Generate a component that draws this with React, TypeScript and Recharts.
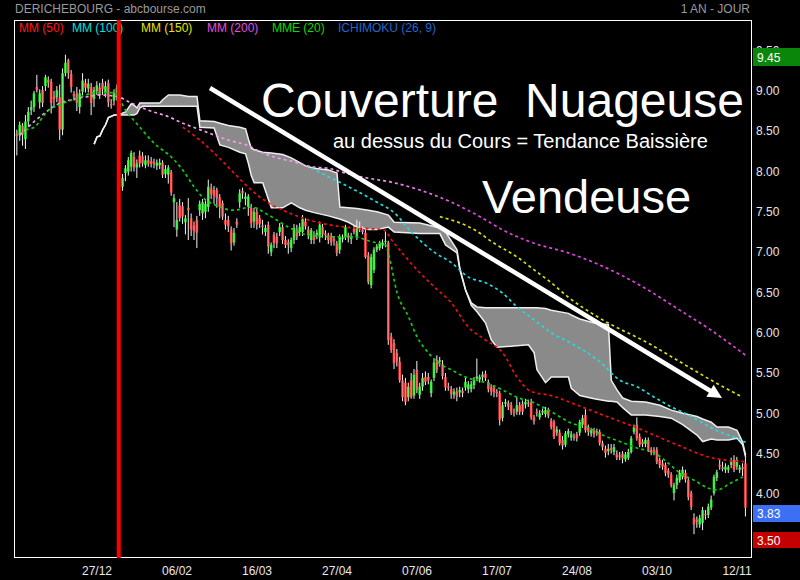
import { ComposedChart, Bar, Line, Area, XAxis, YAxis, ReferenceLine } from 'recharts'

// daily candles, oldest first
const opens = [
  8.47, 8.45, 8.57, 8.40, 8.62, 8.76, 8.80, 9.05, 8.86, 9.01,
  9.06, 9.14, 9.11, 8.93, 8.92, 8.92, 8.52, 9.22, 9.38, 9.21,
  8.96, 8.97, 8.80, 8.99, 9.10, 9.03, 9.05, 8.90, 9.00, 9.04,
  9.10, 8.98, 9.10, 8.84, 8.88, 8.92, 8.84, 7.81, 7.98, 8.00,
  8.06, 8.18, 8.05, 8.20, 8.19, 8.08, 8.14, 8.13, 8.12, 8.07,
  8.08, 8.11, 7.97, 7.96, 7.99, 7.62, 7.28, 7.58, 7.57, 7.37,
  7.55, 7.42, 7.33, 7.40, 7.52, 7.48, 7.50, 7.56, 7.79, 7.77,
  7.77, 7.68, 7.61, 7.40, 7.40, 7.28, 7.12, 7.38, 7.62, 7.76,
  7.66, 7.56, 7.55, 7.38, 7.50, 7.42, 7.33, 7.25, 7.34, 7.00,
  7.22, 7.19, 7.25, 7.31, 7.15, 7.12, 7.05, 7.15, 7.28, 7.25,
  7.25, 7.38, 7.28, 7.15, 7.21, 7.21, 7.18, 7.31, 7.23, 7.21,
  7.20, 7.16, 7.11, 7.03, 7.16, 7.19, 7.21, 7.16, 7.29, 7.19,
  7.30, 7.28, 7.24, 6.96, 6.59, 6.78, 7.03, 7.05, 7.08, 7.13,
  7.12, 5.95, 5.87, 5.75, 5.64, 5.41, 5.38, 5.20, 5.41, 5.22,
  5.54, 5.23, 5.33, 5.45, 5.45, 5.25, 5.44, 5.66, 5.64, 5.61,
  5.45, 5.33, 5.30, 5.23, 5.27, 5.26, 5.28, 5.32, 5.30, 5.30,
  5.35, 5.43, 5.42, 5.45, 5.49, 5.39, 5.33, 5.32, 5.27, 5.25,
  4.94, 5.12, 5.13, 5.10, 5.02, 5.02, 5.10, 5.12, 5.11, 5.13,
  5.14, 4.95, 5.02, 4.95, 5.01, 4.99, 5.04, 4.91, 4.89, 4.76,
  4.76, 4.67, 4.61, 4.74, 4.70, 4.71, 4.74, 4.76, 4.86, 4.98,
  4.83, 4.75, 4.79, 4.76, 4.77, 4.63, 4.56, 4.53, 4.57, 4.52,
  4.50, 4.48, 4.50, 4.43, 4.45, 4.52, 4.77, 4.86, 4.71, 4.65,
  4.62, 4.67, 4.55, 4.54, 4.55, 4.42, 4.38, 4.36, 4.29, 4.24,
  4.01, 4.11, 4.17, 4.21, 4.26, 4.17, 4.01, 3.70, 3.68, 3.62,
  3.64, 3.75, 3.74, 3.83, 4.01, 4.20, 4.36, 4.33, 4.30, 4.30,
  4.36, 4.42, 4.34, 4.30, 4.33, 4.38,
]

const highs = [
  8.52, 8.62, 8.60, 8.70, 8.80, 8.88, 9.00, 9.20, 9.02, 9.06,
  9.20, 9.18, 9.15, 9.00, 9.06, 9.08, 9.28, 9.45, 9.40, 9.26,
  9.00, 9.05, 9.02, 9.22, 9.15, 9.15, 9.10, 9.05, 9.12, 9.10,
  9.15, 9.12, 9.14, 8.90, 9.02, 9.08, 8.92, 7.97, 8.08, 8.18,
  8.26, 8.24, 8.15, 8.26, 8.24, 8.20, 8.20, 8.18, 8.16, 8.15,
  8.16, 8.14, 8.08, 8.08, 8.02, 7.72, 7.62, 7.66, 7.62, 7.46,
  7.67, 7.48, 7.38, 7.45, 7.64, 7.66, 7.64, 7.90, 7.85, 7.82,
  7.80, 7.72, 7.64, 7.48, 7.45, 7.32, 7.30, 7.42, 7.78, 7.80,
  7.74, 7.72, 7.60, 7.55, 7.55, 7.46, 7.40, 7.34, 7.38, 7.12,
  7.25, 7.24, 7.36, 7.35, 7.20, 7.16, 7.18, 7.35, 7.34, 7.36,
  7.46, 7.42, 7.32, 7.30, 7.26, 7.28, 7.38, 7.35, 7.27, 7.24,
  7.24, 7.20, 7.14, 7.22, 7.22, 7.34, 7.24, 7.24, 7.33, 7.40,
  7.38, 7.32, 7.28, 7.00, 6.98, 7.06, 7.10, 7.14, 7.16, 7.26,
  7.14, 6.00, 5.92, 5.80, 5.70, 5.48, 5.44, 5.38, 5.50, 5.55,
  5.65, 5.38, 5.50, 5.52, 5.50, 5.42, 5.68, 5.72, 5.70, 5.66,
  5.50, 5.38, 5.34, 5.31, 5.32, 5.33, 5.32, 5.44, 5.40, 5.40,
  5.45, 5.68, 5.48, 5.52, 5.53, 5.42, 5.36, 5.35, 5.30, 5.28,
  5.14, 5.18, 5.16, 5.14, 5.06, 5.20, 5.14, 5.16, 5.18, 5.17,
  5.18, 4.98, 5.06, 5.04, 5.06, 5.08, 5.07, 4.94, 4.92, 4.84,
  4.80, 4.72, 4.78, 4.81, 4.78, 4.75, 4.77, 4.92, 4.98, 5.05,
  4.86, 4.82, 4.82, 4.81, 4.80, 4.66, 4.60, 4.62, 4.62, 4.62,
  4.54, 4.52, 4.53, 4.52, 4.56, 4.72, 4.86, 4.95, 4.75, 4.68,
  4.70, 4.70, 4.58, 4.58, 4.58, 4.45, 4.42, 4.39, 4.32, 4.27,
  4.14, 4.24, 4.30, 4.34, 4.30, 4.20, 4.04, 3.76, 3.72, 3.74,
  3.84, 3.80, 3.88, 3.98, 4.24, 4.30, 4.42, 4.40, 4.38, 4.36,
  4.45, 4.48, 4.46, 4.36, 4.38, 4.46,
]

const lows = [
  8.20, 8.38, 8.32, 8.28, 8.55, 8.70, 8.74, 8.98, 8.78, 8.80,
  9.00, 9.04, 8.72, 8.80, 8.86, 8.39, 8.45, 9.18, 9.15, 8.98,
  8.88, 8.75, 8.72, 8.95, 8.98, 8.98, 8.70, 8.80, 8.95, 8.90,
  8.95, 8.92, 8.80, 8.78, 8.82, 8.88, 8.70, 7.76, 7.88, 7.95,
  8.00, 8.00, 7.92, 8.05, 8.06, 8.04, 8.06, 8.05, 8.04, 8.02,
  8.03, 7.92, 7.92, 7.85, 7.70, 7.31, 7.19, 7.38, 7.35, 7.22,
  7.15, 7.20, 7.15, 7.05, 7.45, 7.40, 7.42, 7.50, 7.66, 7.60,
  7.55, 7.42, 7.40, 7.28, 7.25, 7.02, 7.08, 7.30, 7.55, 7.66,
  7.58, 7.45, 7.30, 7.30, 7.28, 7.30, 7.22, 7.20, 6.98, 6.95,
  7.05, 7.05, 7.20, 7.10, 7.05, 6.98, 7.00, 7.10, 7.15, 7.20,
  7.20, 7.28, 7.16, 7.10, 7.10, 7.16, 7.12, 7.18, 7.15, 7.10,
  7.08, 7.08, 6.95, 6.98, 7.12, 7.15, 7.12, 7.10, 7.22, 7.15,
  7.25, 7.22, 6.92, 6.60, 6.55, 6.74, 7.00, 7.02, 7.04, 7.06,
  5.85, 5.75, 5.55, 5.58, 5.38, 5.15, 5.10, 5.15, 5.18, 5.18,
  5.25, 5.18, 5.28, 5.35, 5.36, 5.20, 5.40, 5.50, 5.58, 5.42,
  5.28, 5.28, 5.18, 5.18, 5.15, 5.20, 5.20, 5.28, 5.25, 5.26,
  5.30, 5.40, 5.38, 5.40, 5.40, 5.26, 5.22, 5.20, 5.20, 4.85,
  4.90, 5.08, 5.04, 4.98, 4.96, 4.98, 4.98, 4.98, 5.06, 5.08,
  4.92, 4.86, 4.96, 4.92, 4.98, 4.95, 4.94, 4.80, 4.68, 4.72,
  4.60, 4.55, 4.58, 4.70, 4.66, 4.66, 4.65, 4.72, 4.82, 4.76,
  4.72, 4.71, 4.70, 4.72, 4.60, 4.54, 4.45, 4.48, 4.50, 4.48,
  4.42, 4.42, 4.38, 4.40, 4.42, 4.50, 4.74, 4.66, 4.58, 4.58,
  4.58, 4.52, 4.48, 4.48, 4.37, 4.32, 4.30, 4.22, 4.20, 4.08,
  3.92, 4.06, 4.14, 4.18, 4.14, 3.92, 3.80, 3.50, 3.58, 3.58,
  3.55, 3.68, 3.70, 3.80, 3.98, 4.16, 4.30, 4.28, 4.26, 4.26,
  4.32, 4.27, 4.30, 4.26, 4.22, 3.72,
]

const closes = [
  8.44, 8.58, 8.46, 8.62, 8.74, 8.80, 8.97, 9.01, 8.97, 8.85,
  9.17, 9.10, 8.85, 8.90, 9.01, 8.52, 9.22, 9.35, 9.22, 9.05,
  8.93, 8.85, 8.97, 9.13, 9.04, 9.09, 8.85, 9.01, 9.07, 8.95,
  9.02, 9.06, 8.86, 8.82, 8.97, 9.04, 8.80, 7.92, 8.04, 8.14,
  8.23, 8.05, 8.10, 8.10, 8.10, 8.14, 8.10, 8.09, 8.10, 8.11,
  8.11, 7.96, 8.03, 8.05, 7.74, 7.67, 7.40, 7.42, 7.44, 7.42,
  7.52, 7.28, 7.26, 7.24, 7.60, 7.62, 7.60, 7.81, 7.72, 7.70,
  7.67, 7.56, 7.44, 7.34, 7.32, 7.11, 7.24, 7.34, 7.73, 7.73,
  7.69, 7.69, 7.36, 7.50, 7.34, 7.35, 7.31, 7.30, 7.07, 7.09,
  7.11, 7.11, 7.31, 7.15, 7.09, 7.09, 7.15, 7.30, 7.19, 7.31,
  7.41, 7.32, 7.21, 7.27, 7.15, 7.24, 7.34, 7.22, 7.21, 7.15,
  7.12, 7.14, 6.99, 7.19, 7.18, 7.31, 7.18, 7.20, 7.25, 7.31,
  7.28, 7.25, 6.94, 6.63, 6.94, 7.03, 7.07, 7.11, 7.12, 7.14,
  5.91, 5.79, 5.62, 5.64, 5.41, 5.20, 5.14, 5.33, 5.20, 5.48,
  5.29, 5.33, 5.44, 5.39, 5.41, 5.39, 5.63, 5.54, 5.66, 5.46,
  5.32, 5.32, 5.24, 5.27, 5.21, 5.29, 5.25, 5.39, 5.36, 5.36,
  5.41, 5.46, 5.45, 5.48, 5.44, 5.30, 5.27, 5.26, 5.25, 4.92,
  5.10, 5.14, 5.08, 5.02, 5.00, 5.10, 5.02, 5.02, 5.14, 5.12,
  4.95, 4.90, 5.00, 5.00, 5.03, 5.04, 4.97, 4.83, 4.71, 4.80,
  4.63, 4.60, 4.75, 4.78, 4.74, 4.70, 4.69, 4.89, 4.94, 4.79,
  4.77, 4.79, 4.74, 4.78, 4.63, 4.58, 4.51, 4.56, 4.55, 4.58,
  4.45, 4.46, 4.44, 4.49, 4.52, 4.69, 4.83, 4.69, 4.61, 4.62,
  4.67, 4.55, 4.51, 4.52, 4.40, 4.36, 4.34, 4.26, 4.24, 4.11,
  4.11, 4.20, 4.26, 4.30, 4.18, 3.96, 3.84, 3.62, 3.65, 3.70,
  3.80, 3.74, 3.84, 3.93, 4.21, 4.27, 4.34, 4.31, 4.34, 4.33,
  4.40, 4.30, 4.42, 4.33, 4.31, 3.83,
]

// session index of each date label on the time axis
const dateTicks = [28, 56, 84, 112, 140, 168, 196, 224, 252]
const dateLabels = ['27/12', '06/02', '16/03', '27/04', '07/06', '17/07', '24/08', '03/10', '12/11']
const priceTicks = [4, 4.5, 5, 5.5, 6, 6.5, 7, 7.5, 8, 8.5, 9, 9.5]

// moving averages: [session, value]
const mm50 = [
  [58, 8.55], [64, 8.39], [69, 8.23], [76, 7.98], [82, 7.77], [88, 7.61], [95, 7.49], [102, 7.40],
  [109, 7.34], [118, 7.30], [128, 7.28], [132, 7.11], [140, 6.78], [146, 6.57], [152, 6.37],
  [158, 6.07], [164, 5.91], [170, 5.75], [175, 5.45], [180, 5.27], [187, 5.22], [194, 5.13],
  [205, 4.98], [217, 4.82], [231, 4.61], [243, 4.45], [255, 4.40],
]
const mm100 = [
  [103, 8.04], [115, 7.83], [126, 7.62], [132, 7.49], [138, 7.25], [146, 7.00], [152, 6.87],
  [158, 6.69], [164, 6.62], [170, 6.49], [175, 6.32], [181, 6.16], [187, 6.00], [194, 5.87],
  [204, 5.64], [211, 5.41], [217, 5.33], [223, 5.20], [229, 5.08], [235, 4.98], [240, 4.88],
  [246, 4.77], [252, 4.69], [255, 4.64],
]
const mm150 = [
  [148, 7.44], [160, 7.28], [167, 7.11], [175, 6.94], [181, 6.78], [187, 6.62], [193, 6.44],
  [204, 6.18], [222, 5.85], [232, 5.64], [244, 5.39], [254, 5.20],
]
const mm200 = [
  [1, 8.45], [6, 8.62], [11, 8.76], [14, 8.83], [20, 8.90], [25, 8.93], [29, 8.95], [35, 8.93],
  [40, 8.85], [46, 8.76], [53, 8.68], [58, 8.60], [64, 8.52], [74, 8.39], [81, 8.32], [86, 8.23],
  [91, 8.17], [97, 8.12], [103, 8.06], [109, 8.04], [115, 7.98], [121, 7.93], [132, 7.86],
  [141, 7.77], [152, 7.62], [161, 7.46], [172, 7.24], [181, 7.11], [193, 6.99], [204, 6.84],
  [218, 6.59], [232, 6.28], [243, 6.03], [255, 5.72],
]
const mme20 = [
  [3, 8.52], [6, 8.55], [11, 8.76], [15, 8.83], [21, 8.91], [28, 8.98], [34, 8.98], [38, 8.76],
  [43, 8.55], [48, 8.35], [54, 8.18], [58, 8.02], [62, 7.81], [65, 7.68], [69, 7.59], [76, 7.52],
  [82, 7.56], [88, 7.46], [95, 7.31], [102, 7.21], [111, 7.19], [118, 7.19], [124, 7.13],
  [129, 7.09], [130, 6.98], [133, 6.50], [137, 6.20], [140, 5.95], [144, 5.75], [147, 5.64],
  [152, 5.54], [157, 5.45], [164, 5.38], [170, 5.29], [175, 5.20], [181, 5.13], [187, 5.02],
  [194, 4.88], [200, 4.82], [205, 4.73], [211, 4.65], [217, 4.57], [223, 4.51], [228, 4.38],
  [232, 4.26], [237, 4.17], [242, 4.07], [245, 4.05], [250, 4.14], [254, 4.21],
]

// ichimoku cloud edges: [session, upper, lower]
const cloud = [
  [27, 8.34, 8.34], [28, 8.43, 8.43], [29, 8.44, 8.44], [30, 8.52, 8.52], [31, 8.58, 8.58],
  [32, 8.67, 8.67], [34, 8.70, 8.70], [36, 8.71, 8.70], [38, 8.74, 8.70], [40, 8.84, 8.70],
  [41, 8.82, 8.70], [42, 8.79, 8.72], [43, 8.85, 8.79], [44, 8.85, 8.81], [50, 8.85, 8.81],
  [51, 8.89, 8.81], [53, 8.95, 8.81], [57, 8.95, 8.81], [60, 8.93, 8.81], [63, 8.93, 8.81],
  [64, 8.63, 8.55], [69, 8.62, 8.54], [71, 8.60, 8.33], [74, 8.57, 8.30], [78, 8.55, 8.24],
  [80, 8.53, 8.22], [81, 8.40, 8.10], [82, 8.29, 7.95], [83, 8.27, 7.86], [86, 8.24, 7.86],
  [89, 8.23, 7.55], [93, 8.21, 7.55], [96, 8.17, 7.61], [99, 8.11, 7.55], [101, 8.07, 7.52],
  [104, 8.04, 7.49], [109, 8.02, 7.45], [112, 7.98, 7.42], [113, 7.56, 7.41], [116, 7.55, 7.37],
  [119, 7.54, 7.31], [123, 7.52, 7.28], [126, 7.50, 7.28], [130, 7.46, 7.31], [132, 7.37, 7.25],
  [141, 7.36, 7.23], [148, 7.30, 7.23], [150, 7.25, 7.09], [154, 7.03, 6.99], [155, 6.80, 6.78],
  [157, 6.53, 6.53], [159, 6.37, 6.34], [161, 6.32, 6.26], [164, 6.31, 6.12], [166, 6.31, 5.91],
  [168, 6.31, 5.82], [179, 6.31, 5.85], [181, 6.31, 5.75], [182, 6.31, 5.54], [185, 6.30, 5.38],
  [187, 6.28, 5.45], [193, 6.24, 5.45], [194, 6.22, 5.31], [197, 6.17, 5.22], [202, 6.12, 5.18],
  [207, 6.10, 5.15], [208, 5.41, 5.15], [210, 5.29, 5.14], [212, 5.19, 5.07], [215, 5.15, 4.98],
  [220, 5.14, 4.98], [225, 5.10, 4.96], [229, 5.04, 4.94], [233, 5.00, 4.86], [238, 4.96, 4.73],
  [240, 4.93, 4.65], [243, 4.89, 4.68], [245, 4.83, 4.67], [249, 4.83, 4.67], [252, 4.79, 4.69],
  [254, 4.64, 4.61], [255, 4.48, 4.46],
]

const periodHigh = 9.45
const periodLow = 3.5
const lastClose = closes[closes.length - 1]
const gapSession = 35.6

type Row = { i: number; o: number; h: number; l: number; c: number; [k: string]: any }

const rows: Row[] = closes.map((c, i) => ({ i, o: opens[i], h: highs[i], l: lows[i], c }))
const series: [string, number[][]][] = [
  ['mm50', mm50], ['mm100', mm100], ['mm150', mm150], ['mm200', mm200], ['mme20', mme20],
]
series.forEach(([key, pts]) => pts.forEach(([i, v]) => { rows[i][key] = v }))
cloud.forEach(([i, up, lo]) => { rows[i].cloud = [lo, up] })

const FONT = '"Liberation Sans", Arial, sans-serif'

function Candle(props: any) {
  const { x, y, width, height, payload } = props
  if (!payload || x == null || y == null) return null
  const { o, h, l, c } = payload
  const top = Math.min(y, y + height)
  const bottom = Math.max(y, y + height)
  const k = h > l ? (bottom - top) / (h - l) : 0
  const py = (v: number) => top + (h - v) * k
  const cx = x + width / 2
  const bodyTop = py(Math.max(o, c))
  const bodyH = Math.max(1, py(Math.min(o, c)) - bodyTop)
  return (
    <g>
      <line x1={cx} x2={cx} y1={top} y2={bottom} stroke="#f4f4f4" strokeWidth={1} />
      <rect x={cx - 1.3} y={bodyTop} width={2.6} height={bodyH} fill={c >= o ? '#22e622' : '#ff3c3c'} />
      <line x1={cx} x2={cx} y1={bodyTop} y2={bodyTop + bodyH} stroke="#ffffff" strokeOpacity={0.35} />
    </g>
  )
}

function TrendArrow(props: any) {
  const { x1, y1, x2, y2 } = props
  if (x1 == null) return null
  const dx = x2 - x1
  const dy = y2 - y1
  const len = Math.hypot(dx, dy)
  const ux = dx / len
  const uy = dy / len
  const bx = x2 - ux * 14
  const by = y2 - uy * 14
  const wing = 7
  return (
    <g>
      <line x1={x1} y1={y1} x2={bx + ux * 2} y2={by + uy * 2} stroke="#ffffff" strokeWidth={4.5} />
      <polygon
        points={`${x2},${y2} ${bx - uy * wing},${by + ux * wing} ${bx + uy * wing},${by - ux * wing}`}
        fill="#ffffff"
      />
    </g>
  )
}

const legend = [
  { label: 'MM (50)', color: '#ff1a1a', x: 19 },
  { label: 'MM (100)', color: '#00e0e0', x: 72 },
  { label: 'MM (150)', color: '#e6e600', x: 141 },
  { label: 'MM (200)', color: '#e050e0', x: 207 },
  { label: 'MME (20)', color: '#00dd00', x: 272 },
  { label: 'ICHIMOKU (26, 9)', color: '#2266cc', x: 338 },
]

const maLine = (key: string, color: string) => (
  <Line
    key={key}
    dataKey={key}
    stroke={color}
    strokeWidth={1.7}
    strokeDasharray="3 3"
    dot={false}
    activeDot={false}
    connectNulls
    type="monotone"
    isAnimationActive={false}
  />
)

export default function App() {
  return (
    <div
      style={{
        position: 'absolute',
        left: 0,
        top: 0,
        width: 800,
        height: 580,
        background: '#000',
        fontFamily: FONT,
        overflow: 'hidden',
      }}
    >
      {/* header, legend and frame sit under the chart */}
      <svg width={800} height={580} style={{ position: 'absolute', left: 0, top: 0 }}>
        <defs>
          <linearGradient id="mm200Shade" x1="0" x2="1" y1="0" y2="0">
            <stop offset="0" stopColor="#f0a0ea" />
            <stop offset="0.5" stopColor="#ee9ae8" />
            <stop offset="0.62" stopColor="#dd44dd" />
            <stop offset="1" stopColor="#dd44dd" />
          </linearGradient>
        </defs>
        <text x={15} y={13} fontSize={12} fill="#9a9a9a">DERICHEBOURG - abcbourse.com</text>
        <text x={750} y={13} fontSize={12} fill="#9a9a9a" textAnchor="end">1 AN - JOUR</text>
        <rect x={14.5} y={20.5} width={737} height={537} fill="none" stroke="#ffffff" strokeWidth={1} />
        {legend.map((d) => (
          <text key={d.label} x={d.x} y={32} fontSize={12} fill={d.color}>{d.label}</text>
        ))}
      </svg>

      <div style={{ position: 'absolute', left: 0, top: 0 }}>
        <ComposedChart width={800} height={580} data={rows} margin={{ top: 20, right: 0, bottom: 0, left: 14 }}>
          <XAxis
            dataKey="i"
            type="number"
            domain={[-1.05, 257.25]}
            allowDataOverflow
            ticks={dateTicks}
            interval={0}
            tickFormatter={(v: number) => dateLabels[dateTicks.indexOf(v)] ?? ''}
            axisLine={false}
            tickLine={false}
            tickSize={0}
            tickMargin={8}
            height={22}
            tick={{ fill: '#e8e8e8', fontSize: 12 }}
          />
          <YAxis
            orientation="right"
            type="number"
            domain={[3.205, 9.88]}
            allowDataOverflow
            ticks={priceTicks}
            interval={0}
            tickFormatter={(v: number) => v.toFixed(2)}
            axisLine={false}
            tickLine={false}
            tickSize={0}
            tickMargin={4}
            width={48}
            tick={{ fill: '#e6e6e6', fontSize: 12 }}
          />
          <Area
            dataKey={(d: Row) => d.cloud}
            type="linear"
            connectNulls
            stroke="#eeeeee"
            strokeWidth={1.5}
            fill="#8a8a8a"
            fillOpacity={1}
            dot={false}
            activeDot={false}
            isAnimationActive={false}
          />
          {maLine('mm200', 'url(#mm200Shade)')}
          {maLine('mm150', '#dddd11')}
          {maLine('mm100', '#22dddd')}
          {maLine('mm50', '#ee1111')}
          {maLine('mme20', '#11cc11')}
          <Bar
            dataKey={(d: Row) => [d.l, d.h]}
            barSize={3}
            shape={<Candle />}
            isAnimationActive={false}
          />
          <ReferenceLine x={gapSession} stroke="#ff0000" strokeWidth={4} />
          <ReferenceLine
            segment={[{ x: 67.55, y: 9.036 }, { x: 246.75, y: 5.19 }]}
            shape={<TrendArrow />}
          />
        </ComposedChart>
      </div>

      {/* annotations and price badges on top */}
      <svg
        width={800}
        height={580}
        style={{ position: 'absolute', left: 0, top: 0, pointerEvents: 'none' }}
      >
        <text x={261} y={117} fontSize={48} fill="#ffffff" style={{ whiteSpace: 'pre' }}>
          Couverture  Nuageuse
        </text>
        <text x={333} y={148} fontSize={20} fill="#ffffff">
          au dessus du Cours = Tendance Baissière
        </text>
        <text x={482} y={213} fontSize={47} fill="#ffffff">Vendeuse</text>

        <rect x={753} y={48} width={47} height={18} fill="#0a870a" />
        <text x={757} y={61.5} fontSize={12} fill="#ffffff">{periodHigh.toFixed(2)}</text>
        <rect x={753} y={505} width={47} height={17} fill="#3d6ff5" />
        <text x={757} y={518} fontSize={12} fill="#ffffff">{lastClose.toFixed(2)}</text>
        <rect x={753} y={532} width={47} height={16} fill="#c40000" />
        <text x={757} y={545} fontSize={12} fill="#ffffff">{periodLow.toFixed(2)}</text>
      </svg>
    </div>
  )
}
